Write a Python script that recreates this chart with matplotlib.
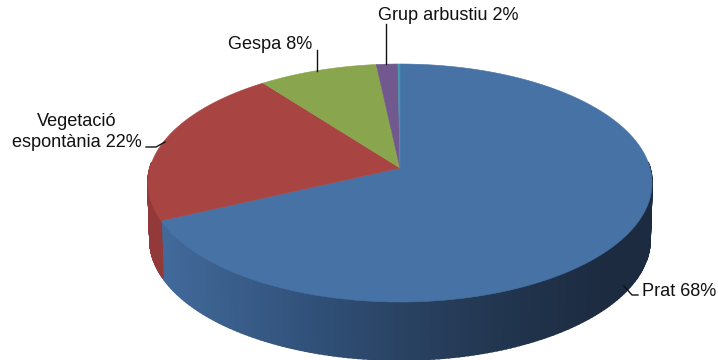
import matplotlib
matplotlib.use("Agg")
import matplotlib.pyplot as plt
from matplotlib.colors import LinearSegmentedColormap
import numpy as np

plt.rcParams["font.family"] = ["Liberation Sans", "DejaVu Sans"]

# slices, clockwise from the top
names = ["Prat", "Vegetació espontània", "Gespa", "Grup arbustiu", "Altres"]
values = [68.0, 21.7, 8.6, 1.55, 0.15]
colors = ["#4672A6", "#A84442", "#89A54E", "#71588F", "#4198AF"]
side_dark = ["#1B2E49", "#93393A", "#6D833E", "#5A4672", "#33798C"]

# pie geometry in pixels, tilted with a little perspective
cx, cy = 400, 183
rx, ry = 252, 119
apex = 15
bottom_cy, bottom_rx, bottom_ry = 240, 250, 120

k = 30 / 238
a2 = rx * np.sqrt(1 - k * k)


def top_rim(t):
    x, y = np.cos(t), np.sin(t)
    d = 1 + k * y
    return cx + a2 * x / d, cy - (ry * y + apex) / d


fig = plt.figure(figsize=(7.18, 3.6), dpi=100)
ax = fig.add_axes([0, 0, 1, 1])
ax.set_xlim(0, 718)
ax.set_ylim(360, 0)
ax.axis("off")

fr = np.array(values) / sum(values)
edges = np.pi / 2 - 2 * np.pi * np.concatenate([[0], np.cumsum(fr)])

# side wall first, the blue part shades from left to right
blue_side = LinearSegmentedColormap.from_list(
    "s", [(0, "#41699A"), (0.375, "#2F4E75"), (0.534, "#2A4364"), (0.76, "#223650"), (1, "#1C2B40")]
)
for i in range(len(values)):
    ts = np.linspace(edges[i], edges[i + 1], 240)
    for j in range(len(ts) - 1):
        t0, t1 = ts[j], ts[j + 1]
        if np.sin(t0) > 0.05 and np.sin(t1) > 0.05:
            continue
        x0, y0 = top_rim(t0)
        x1, y1 = top_rim(t1)
        u0 = (x0 - cx) / rx
        u1 = (x1 - cx) / rx
        bx0 = cx + u0 * bottom_rx
        bx1 = cx + u1 * bottom_rx
        by0 = bottom_cy + bottom_ry * np.sqrt(max(1 - u0 * u0, 0))
        by1 = bottom_cy + bottom_ry * np.sqrt(max(1 - u1 * u1, 0))
        if i == 0:
            c = blue_side(np.clip((x0 - 165) / 440, 0, 1))
        else:
            c = side_dark[i]
        ax.fill([x0, x1, bx1, bx0], [y0, y1, by1, by0], color=c, lw=1.2)

# top surface
for i in range(len(values)):
    ts = np.linspace(edges[i], edges[i + 1], 300)
    xs, ys = top_rim(ts)
    ax.fill(np.r_[cx, xs], np.r_[cy - apex, ys], color=colors[i], lw=0.4)

# labels and leaders
fs = 13.1
tc = "#111111"
ax.text(378, 16, "Grup arbustiu 2%", fontsize=fs, color=tc, va="center", ha="left")
ax.plot([386, 386], [24, 64], color="#111111", lw=1)
ax.text(228, 44.5, "Gespa 8%", fontsize=fs, color=tc, va="center", ha="left")
ax.plot([317, 317], [50, 71], color="#111111", lw=1)
ax.text(77, 132, "Vegetació\nespontània 22%", fontsize=fs, color=tc, va="center", ha="center", linespacing=1.3)
ax.plot([146, 156, 165], [147, 147, 142], color="#111111", lw=1)
ax.text(642, 291.5, "Prat 68%", fontsize=fs, color=tc, va="center", ha="left")
ax.plot([624, 632, 638], [286, 295, 295], color="#111111", lw=1)

fig.savefig("out.png", dpi=100, facecolor="white")
